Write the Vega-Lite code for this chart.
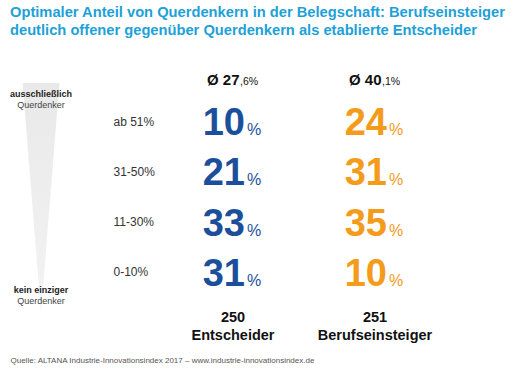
{
  "$schema": "https://vega.github.io/schema/vega-lite/v6.json",
  "width": 530,
  "height": 290,
  "autosize": {"type": "none"},
  "padding": {"left": 0, "top": 50, "right": 0, "bottom": 33},
  "background": "white",
  "config": {"view": {"stroke": null}, "font": "Liberation Sans"},
  "title": {
    "text": ["Optimaler Anteil von Querdenkern in der Belegschaft: Berufseinsteiger", "deutlich offener gegenüber Querdenkern als etablierte Entscheider"],
    "anchor": "start",
    "frame": "group",
    "dx": 10,
    "offset": 12,
    "font": "Liberation Sans",
    "fontSize": 14.7,
    "fontWeight": "bold",
    "color": "#1ea1d8",
    "lineHeight": 18
  },
  "layer": [
    {
      "layer": [
        {
          "data": {"values": [{"skala": "Querdenker", "mitte": 50}]},
          "mark": {"type": "point", "shape": "M -0.16 -1 L 0.16 -1 L 0 1 Z", "size": 52900, "filled": true, "opacity": 1, "strokeWidth": 0,
            "fill": {"gradient": "linear", "x1": 0, "y1": 0, "x2": 0, "y2": 1, "stops": [{"offset": 0, "color": "#e9e9e9"}, {"offset": 1, "color": "#f3f3f3"}]}},
          "encoding": {
            "x": {"field": "skala", "type": "nominal", "scale": {"type": "point", "range": [0, 82], "padding": 0}, "axis": null},
            "y": {"field": "mitte", "type": "quantitative", "scale": {"domain": [0, 100], "range": [246, 50], "nice": false, "zero": false}, "axis": null}
          }
        },
        {
          "data": {"values": [
            {"skala": "Querdenker", "mitte": 100, "oben": "ausschließlich", "unten": "Querdenker"},
            {"skala": "Querdenker", "mitte": 0, "oben": "kein einziger", "unten": "Querdenker"}
          ]},
          "layer": [
            {"mark": {"type": "text", "fontSize": 9, "fontWeight": "bold", "color": "#222222", "baseline": "middle", "dy": -6},
             "encoding": {"x": {"field": "skala", "type": "nominal"}, "y": {"field": "mitte", "type": "quantitative"}, "text": {"field": "oben"}}},
            {"mark": {"type": "text", "fontSize": 9, "color": "#444444", "baseline": "middle", "dy": 5},
             "encoding": {"x": {"field": "skala", "type": "nominal"}, "y": {"field": "mitte", "type": "quantitative"}, "text": {"field": "unten"}}}
          ]
        }
      ]
    },
    {
      "layer": [
        {
          "data": {"values": [
            {"gruppe": "Entscheider", "zeile": "ab 51%", "wert": 10},
            {"gruppe": "Entscheider", "zeile": "31-50%", "wert": 21},
            {"gruppe": "Entscheider", "zeile": "11-30%", "wert": 33},
            {"gruppe": "Entscheider", "zeile": "0-10%", "wert": 31},
            {"gruppe": "Berufseinsteiger", "zeile": "ab 51%", "wert": 24},
            {"gruppe": "Berufseinsteiger", "zeile": "31-50%", "wert": 31},
            {"gruppe": "Berufseinsteiger", "zeile": "11-30%", "wert": 35},
            {"gruppe": "Berufseinsteiger", "zeile": "0-10%", "wert": 10}
          ]},
          "encoding": {
            "x": {"field": "gruppe", "type": "nominal",
              "scale": {"type": "point", "domain": ["Entscheider", "Berufseinsteiger"], "range": [233, 375], "padding": 0},
              "axis": {"orient": "bottom", "labels": false, "ticks": false, "domain": false, "grid": false,
                "title": "Quelle: ALTANA Industrie-Innovationsindex 2017 – www.industrie-innovationsindex.de",
                "titleX": 10, "titleY": 20, "titleAlign": "left", "titleAnchor": "start", "titleBaseline": "middle",
                "titleFont": "Liberation Sans", "titleFontSize": 8, "titleFontWeight": "normal", "titleColor": "#555555"}},
            "y": {"field": "zeile", "type": "nominal",
              "scale": {"type": "point", "domain": ["Ø", "ab 51%", "31-50%", "11-30%", "0-10%", "n"], "range": [20.7, 272.3], "padding": 0},
              "axis": {"values": ["ab 51%", "31-50%", "11-30%", "0-10%"], "orient": "left", "offset": -113, "labelAlign": "left",
                "labelPadding": 0, "ticks": false, "tickSize": 0, "domain": false, "grid": false, "title": null,
                "labelFont": "Liberation Sans", "labelFontSize": 12, "labelColor": "#333333", "labelBaseline": "middle"}},
            "color": {"field": "gruppe", "type": "nominal",
              "scale": {"domain": ["Entscheider", "Berufseinsteiger"], "range": ["#1b4f9c", "#f49b1b"]}, "legend": null}
          },
          "layer": [
            {"mark": {"type": "text", "align": "right", "baseline": "alphabetic", "dx": 12, "dy": 14, "fontSize": 38, "fontWeight": "bold"},
             "encoding": {"text": {"field": "wert"}}},
            {"mark": {"type": "text", "align": "left", "baseline": "alphabetic", "dx": 14, "dy": 14, "fontSize": 16},
             "encoding": {"text": {"value": "%"}}}
          ]
        },
        {
          "data": {"values": [
            {"gruppe": "Entscheider", "zeile": "Ø", "vorkomma": "Ø 27", "nachkomma": ",6%"},
            {"gruppe": "Berufseinsteiger", "zeile": "Ø", "vorkomma": "Ø 40", "nachkomma": ",1%"}
          ]},
          "encoding": {"x": {"field": "gruppe", "type": "nominal"}, "y": {"field": "zeile", "type": "nominal"}},
          "layer": [
            {"mark": {"type": "text", "align": "right", "baseline": "alphabetic", "dx": 6.5, "dy": 14, "fontSize": 15, "fontWeight": "bold", "color": "#111111"},
             "encoding": {"text": {"field": "vorkomma"}}},
            {"mark": {"type": "text", "align": "left", "baseline": "alphabetic", "dx": 7, "dy": 14, "fontSize": 10.5, "color": "#111111"},
             "encoding": {"text": {"field": "nachkomma"}}}
          ]
        },
        {
          "data": {"values": [
            {"gruppe": "Entscheider", "zeile": "n", "anzahl": "250", "name": "Entscheider"},
            {"gruppe": "Berufseinsteiger", "zeile": "n", "anzahl": "251", "name": "Berufseinsteiger"}
          ]},
          "encoding": {"x": {"field": "gruppe", "type": "nominal"}, "y": {"field": "zeile", "type": "nominal"}},
          "layer": [
            {"mark": {"type": "text", "align": "center", "baseline": "alphabetic", "dy": 0, "fontSize": 14.5, "fontWeight": "bold", "color": "#111111"},
             "encoding": {"text": {"field": "anzahl"}}},
            {"mark": {"type": "text", "align": "center", "baseline": "alphabetic", "dy": 18, "fontSize": 14.5, "fontWeight": "bold", "color": "#111111"},
             "encoding": {"text": {"field": "name"}}}
          ]
        }
      ]
    }
  ],
  "resolve": {"scale": {"x": "independent", "y": "independent"}, "axis": {"x": "independent", "y": "independent"}}
}
